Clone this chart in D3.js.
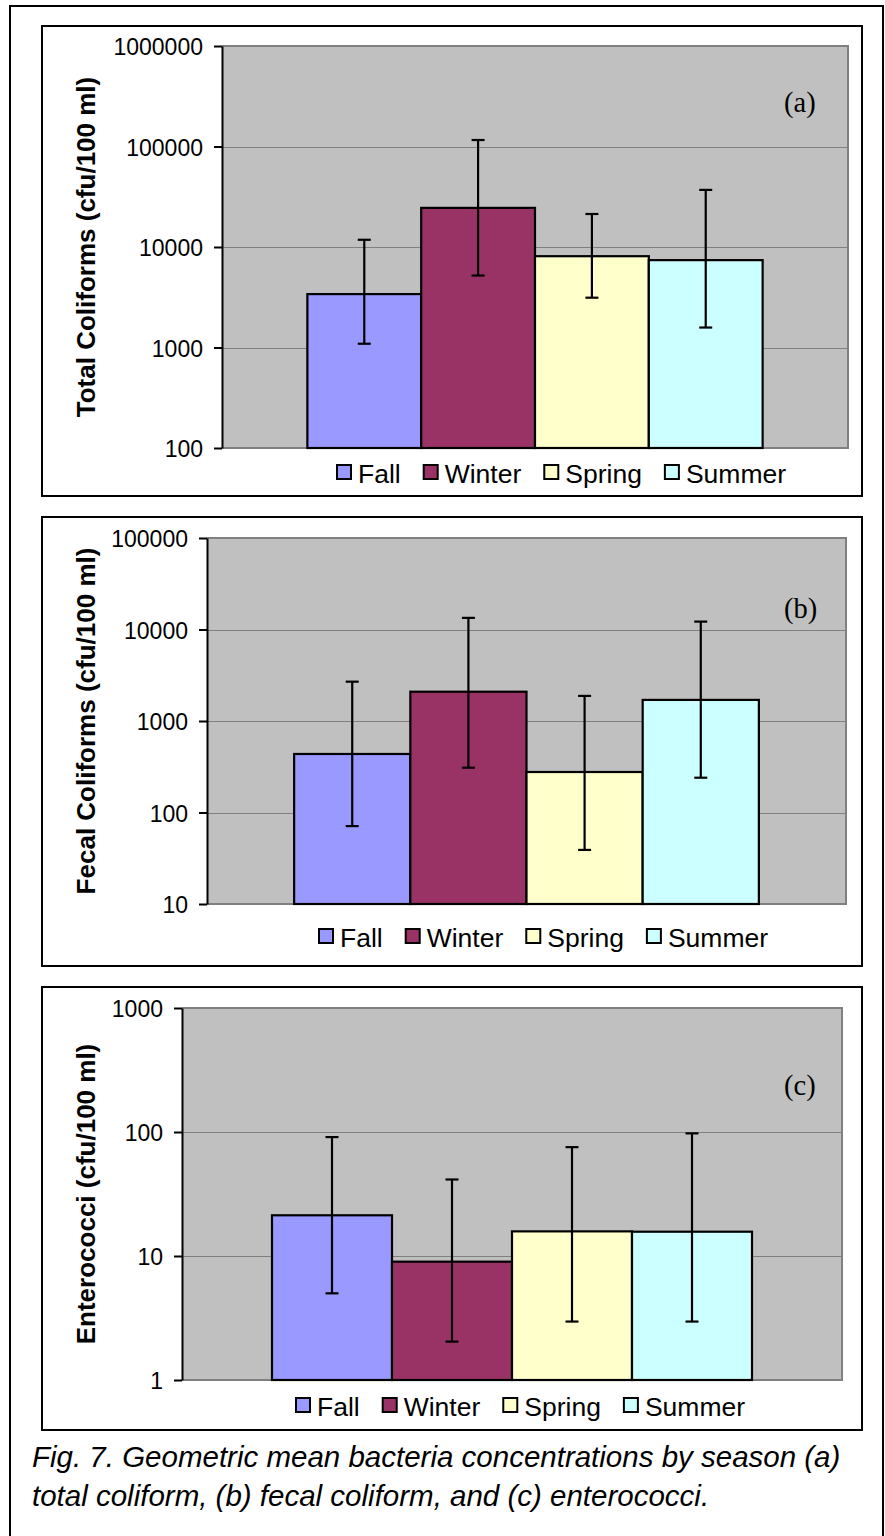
<!DOCTYPE html>
<html>
<head>
<meta charset="utf-8">
<script src="https://cdn.jsdelivr.net/npm/d3@7/dist/d3.min.js"></script>
<style>
  html, body { margin: 0; padding: 0; background: #ffffff; }
  svg { display: block; }
</style>
</head>
<body>
<script>
// ---------------- DATA ----------------
const seasons = ["Fall", "Winter", "Spring", "Summer"];
const seasonColors = ["#9999FF", "#993366", "#FFFFCC", "#CCFFFF"];

// (a) Total coliforms (cfu/100 ml)
const totalMean = [3400, 24500, 8100, 7400];
const totalLow  = [1090, 5200, 3130, 1580];
const totalHigh = [11800, 116000, 21300, 37000];
const totalTicks = [100, 1000, 10000, 100000, 1000000];

// (b) Fecal coliforms (cfu/100 ml)
const fecalMean = [436, 2090, 277, 1700];
const fecalLow  = [71, 309, 39, 240];
const fecalHigh = [2690, 13400, 1880, 12200];
const fecalTicks = [10, 100, 1000, 10000, 100000];

// (c) Enterococci (cfu/100 ml)
const enteroMean = [21.3, 9.0, 15.8, 15.7];
const enteroLow  = [5.0, 2.04, 2.96, 2.96];
const enteroHigh = [91, 41.4, 75.5, 97.5];
const enteroTicks = [1, 10, 100, 1000];

const yTitles = ["Total Coliforms (cfu/100 ml)", "Fecal Coliforms (cfu/100 ml)", "Enterococci (cfu/100 ml)"];
const panelLabels = ["(a)", "(b)", "(c)"];
const captionLines = [
  "Fig. 7. Geometric mean bacteria concentrations by season (a)",
  "total coliform, (b) fecal coliform, and (c) enterococci."
];

// ---------------- LAYOUT ----------------
const W = 885, H = 1536;
const layout = [
  { frame: {x: 42, y: 26, w: 820, h: 470}, plot: {l: 222, t: 46, r: 848, b: 448},
    legendX: 337, legendY: 483, labelY: 112 },
  { frame: {x: 42, y: 517, w: 820, h: 449}, plot: {l: 207, t: 538, r: 846, b: 904},
    legendX: 319, legendY: 947, labelY: 618 },
  { frame: {x: 42, y: 987, w: 820, h: 443}, plot: {l: 182, t: 1008, r: 842, b: 1380},
    legendX: 296, legendY: 1416, labelY: 1095 }
];
const panelsData = [
  { mean: totalMean, low: totalLow, high: totalHigh, ticks: totalTicks },
  { mean: fecalMean, low: fecalLow, high: fecalHigh, ticks: fecalTicks },
  { mean: enteroMean, low: enteroLow, high: enteroHigh, ticks: enteroTicks }
];

const sans = "'Liberation Sans', Arial, Helvetica, sans-serif";
const serif = "'Liberation Serif', 'Times New Roman', serif";

const svg = d3.select("body").append("svg")
  .attr("width", W).attr("height", H)
  .attr("viewBox", `0 0 ${W} ${H}`);

svg.append("rect").attr("x", 0).attr("y", 0).attr("width", W).attr("height", H).attr("fill", "#ffffff");

// outer frame
svg.append("rect")
  .attr("x", 10).attr("y", 6).attr("width", 873).attr("height", H + 20)
  .attr("fill", "none").attr("stroke", "#000").attr("stroke-width", 2);

function drawPanel(i) {
  const L = layout[i], D = panelsData[i], p = L.plot;
  const g = svg.append("g");

  // panel frame
  g.append("rect")
    .attr("x", L.frame.x).attr("y", L.frame.y).attr("width", L.frame.w).attr("height", L.frame.h)
    .attr("fill", "#fff").attr("stroke", "#000").attr("stroke-width", 2);

  const y = d3.scaleLog().domain([D.ticks[0], D.ticks[D.ticks.length - 1]]).range([p.b, p.t]);
  const x0 = d3.scaleBand().domain(["all"]).range([p.l, p.r]).paddingInner(0).paddingOuter(0.1875);
  const x1 = d3.scaleBand().domain(seasons).range([0, x0.bandwidth()]).padding(0);

  // plot area
  g.append("rect")
    .attr("x", p.l).attr("y", p.t).attr("width", p.r - p.l).attr("height", p.b - p.t)
    .attr("fill", "#C0C0C0");

  // gridlines
  g.append("g").selectAll("line")
    .data(D.ticks)
    .join("line")
    .attr("x1", p.l).attr("x2", p.r)
    .attr("y1", d => Math.round(y(d)) + 0.5).attr("y2", d => Math.round(y(d)) + 0.5)
    .attr("stroke", "#808080").attr("stroke-width", 1.2);

  // plot border (gray) top, right & bottom
  g.append("path")
    .attr("d", `M${p.l},${p.t}H${p.r}V${p.b}H${p.l}`)
    .attr("fill", "none").attr("stroke", "#808080").attr("stroke-width", 2);

  // bars
  const bx = s => x0("all") + x1(s);
  g.append("g").selectAll("rect")
    .data(seasons)
    .join("rect")
    .attr("x", s => bx(s))
    .attr("y", (s, k) => y(D.mean[k]))
    .attr("width", x1.bandwidth())
    .attr("height", (s, k) => p.b - y(D.mean[k]))
    .attr("fill", (s, k) => seasonColors[k])
    .attr("stroke", "#000").attr("stroke-width", 2.2);

  // error bars
  const eg = g.append("g").attr("stroke", "#000").attr("stroke-width", 2.2);
  seasons.forEach((s, k) => {
    const cx = bx(s) + x1.bandwidth() / 2;
    eg.append("line").attr("x1", cx).attr("x2", cx)
      .attr("y1", y(D.low[k])).attr("y2", y(D.high[k]));
    [D.low[k], D.high[k]].forEach(v => {
      eg.append("line").attr("x1", cx - 6.5).attr("x2", cx + 6.5)
        .attr("y1", y(v)).attr("y2", y(v));
    });
  });

  // y axis
  const ax = g.append("g").attr("transform", `translate(${p.l},0)`)
    .call(d3.axisLeft(y).tickValues(D.ticks).tickFormat(d => String(d))
      .tickSizeInner(8).tickSizeOuter(0).tickPadding(11));
  ax.select(".domain").attr("stroke", "#000").attr("stroke-width", 2);
  ax.selectAll(".tick line").attr("stroke", "#000").attr("stroke-width", 2);
  ax.selectAll(".tick text")
    .attr("font-family", sans).attr("font-size", 23).attr("fill", "#000").attr("dy", "0.38em");

  // y title
  g.append("text")
    .attr("transform", `translate(95,${(p.t + p.b) / 2}) rotate(-90)`)
    .attr("text-anchor", "middle")
    .attr("font-family", sans).attr("font-weight", "bold").attr("font-size", 26)
    .attr("fill", "#000")
    .text(yTitles[i]);

  // panel label
  g.append("text")
    .attr("x", 784).attr("y", L.labelY)
    .attr("font-family", serif).attr("font-size", 28.5).attr("fill", "#000")
    .text(panelLabels[i]);

  // legend
  let lx = L.legendX;
  seasons.forEach((s, k) => {
    g.append("rect")
      .attr("x", lx).attr("y", L.legendY - 18).attr("width", 14).attr("height", 14)
      .attr("fill", seasonColors[k]).attr("stroke", "#000").attr("stroke-width", 2);
    const t = g.append("text")
      .attr("x", lx + 21).attr("y", L.legendY)
      .attr("font-family", sans).attr("font-size", 26.5).attr("fill", "#000")
      .text(s);
    lx = lx + 21 + t.node().getComputedTextLength() + 23;
  });
}

[0, 1, 2].forEach(drawPanel);

// caption
svg.append("g").selectAll("text")
  .data(captionLines)
  .join("text")
  .attr("x", 32)
  .attr("y", (d, k) => 1467 + k * 39)
  .attr("font-family", sans).attr("font-style", "italic").attr("font-size", 29.5)
  .attr("fill", "#000")
  .text(d => d);
</script>
</body>
</html>
